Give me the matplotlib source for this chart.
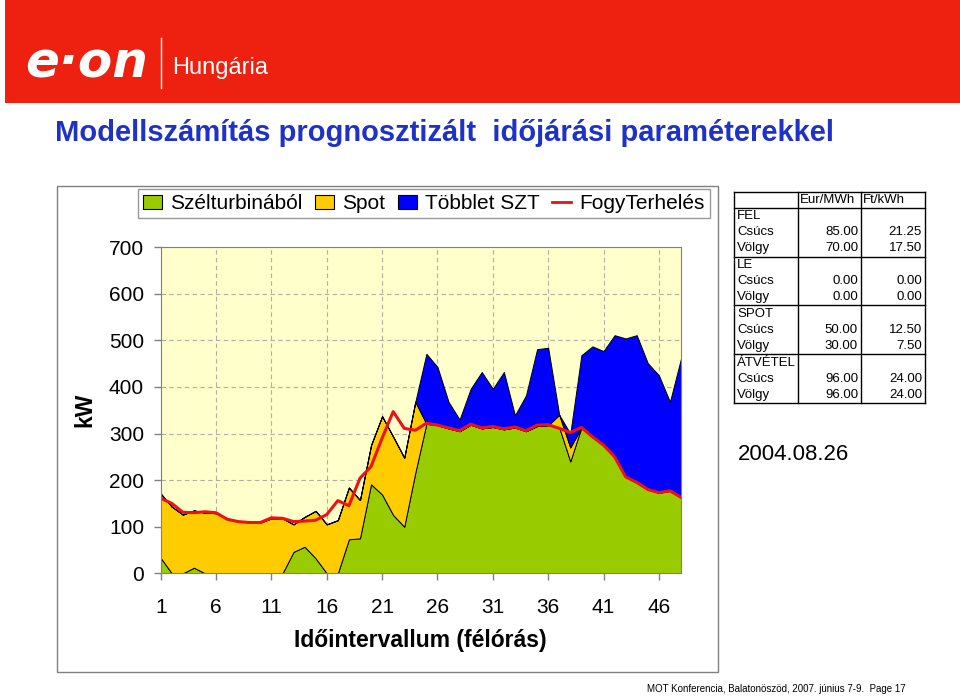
import numpy as np
import matplotlib
matplotlib.use('Agg')
import matplotlib.pyplot as plt
from matplotlib.patches import Rectangle, Patch
from matplotlib.lines import Line2D

plt.rcParams['font.family'] = ['Liberation Sans', 'DejaVu Sans']

W, H = 960, 696

# half-hour intervals of the day
intervallum = np.arange(1, 49)
szel = [33, 0, 0, 12, 0, 0, 0, 0, 0, 0, 0, 0, 46, 57, 32, 0, 0, 73, 75, 191,
        169, 125, 100, 216, 321, 318, 311, 305, 319, 311, 314, 309, 313, 305, 316, 318,
        313, 240, 313, 293, 275, 250, 207, 195, 180, 173, 177, 163]
spot = [138, 143, 126, 123, 130, 129, 118, 112, 109, 109, 118, 118, 59, 64, 102, 105,
        114, 111, 82, 84, 168, 168, 148, 152, 0, 0, 0, 0, 0, 0, 0, 0,
        0, 0, 0, 0, 27, 30, 0, 0, 0, 0, 0, 0, 0, 0, 0, 0]
tobblet = [0, 0, 0, 0, 0, 0, 0, 0, 0, 0, 0, 0, 0, 0, 0, 0, 0, 0, 0, 0, 0, 0, 0, 0,
           150, 125, 57, 25, 77, 121, 82, 123, 26, 77, 165, 166,
           0, 30, 155, 194, 202, 261, 297, 316, 271, 252, 191, 298]
fogy = [161, 150, 131, 130, 132, 130, 116, 111, 109, 109, 119, 118, 111, 112, 114, 126,
        156, 145, 204, 229, 290, 347, 311, 307, 322, 318, 312, 306, 320, 312, 315, 310,
        314, 306, 318, 319, 311, 302, 313, 293, 275, 250, 207, 195, 180, 173, 177, 163]

series_names = ['Szélturbinából', 'Spot', 'Többlet SZT', 'FogyTerhelés']
x_ticks = [1, 6, 11, 16, 21, 26, 31, 36, 41, 46]
y_ticks = [0, 100, 200, 300, 400, 500, 600, 700]

# price table
tab_header = ['Eur/MWh', 'Ft/kWh']
tab_groups = ['FEL', 'LE', 'SPOT', 'ÁTVÉTEL']
tab_sub = ['Csúcs', 'Völgy']
tab_eur = [[85.00, 70.00], [0.00, 0.00], [50.00, 30.00], [96.00, 96.00]]
tab_ft = [[21.25, 17.50], [0.00, 0.00], [12.50, 7.50], [24.00, 24.00]]


def fx(x):
    return x / W


def fy(y):
    return 1 - y / H


fig = plt.figure(figsize=(9.6, 6.96), dpi=100)
tf = fig.transFigure

# red header band
fig.add_artist(Rectangle((fx(5), fy(103)), (W - 5) / W, 103 / H, transform=tf,
                         facecolor='#EE2010', edgecolor='none'))
fig.text(fx(25), fy(64), 'e·on', color='white', fontsize=36, fontweight='bold',
         style='italic', family='DejaVu Sans', va='center')
fig.add_artist(Line2D([fx(161), fx(161)], [fy(38), fy(88)], color='white', lw=1, transform=tf))
fig.text(fx(172), fy(68), 'Hungária', color='white', fontsize=17, va='center')

fig.text(fx(55), fy(133), 'Modellszámítás prognosztizált  időjárási paraméterekkel',
         color='#1E32C8', fontsize=21, fontweight='bold', va='center')

# chart frame
fig.add_artist(Rectangle((fx(57), fy(672)), (718 - 57) / W, (672 - 186) / H, transform=tf,
                         fill=False, edgecolor='#808080', lw=1))

ax = fig.add_axes([fx(160.7), fy(573.3), (681 - 160.7) / W, (573.3 - 247.1) / H])
ax.set_facecolor('#FFFFCC')
ax.set_axisbelow(True)
ax.stackplot(intervallum, szel, spot, tobblet, colors=['#99CC00', '#FFCC00', '#0000FF'],
             edgecolor='black', linewidth=0.7)
ax.plot(intervallum, fogy, color='#EE1111', lw=2.2)
ax.set_xlim(1, 48)
ax.set_ylim(0, 700)
ax.set_xticks(x_ticks)
ax.set_yticks(y_ticks)
ax.tick_params(labelsize=15, length=5, color='#808080', width=1)
ax.tick_params(axis='x', pad=12.5)
ax.tick_params(axis='y', pad=7)
ax.grid(True, ls=(0, (4, 3)), color='#B0B0A0', lw=0.8)
for s in ax.spines.values():
    s.set_color('#808080')

fig.text(fx(85), fy(410), 'kW', rotation=90, fontsize=16.5, fontweight='bold',
         ha='center', va='center')
fig.text(fx(420.5), fy(641), 'Időintervallum (félórás)', fontsize=16.5, fontweight='bold',
         ha='center', va='center')

handles = [Patch(facecolor='#99CC00', edgecolor='black', lw=0.8),
           Patch(facecolor='#FFCC00', edgecolor='black', lw=0.8),
           Patch(facecolor='#0000FF', edgecolor='black', lw=0.8),
           Line2D([0], [0], color='#EE1111', lw=2)]
leg = fig.legend(handles, series_names, loc='upper left', bbox_to_anchor=(fx(138), fy(189)),
                 ncol=4, fontsize=15, frameon=True, fancybox=False, edgecolor='#808080',
                 handlelength=0.9, handletextpad=0.4, columnspacing=0.6, borderpad=0.25,
                 borderaxespad=0)
leg.get_frame().set_linewidth(1)

# table on the right
top, head_bot, row_h = 191.7, 207.7, 16.3
xl, xc1, xc2, xr = 734.3, 797.7, 861, 925
for y in [top, head_bot] + [head_bot + 3 * row_h * (g + 1) for g in range(4)]:
    fig.add_artist(Line2D([fx(xl), fx(xr)], [fy(y), fy(y)], color='black', lw=1, transform=tf))
bot = head_bot + 12 * row_h
for x in [xl, xc1, xc2, xr]:
    fig.add_artist(Line2D([fx(x), fx(x)], [fy(top), fy(bot)], color='black', lw=1, transform=tf))
fig.text(fx(800), fy(200), tab_header[0], fontsize=9.5, va='center')
fig.text(fx(863), fy(200), tab_header[1], fontsize=9.5, va='center')
k = 0
for g, name in enumerate(tab_groups):
    fig.text(fx(737), fy(head_bot + row_h * (k + 0.5)), name, fontsize=9.5, va='center')
    k += 1
    for j, sub in enumerate(tab_sub):
        yc = fy(head_bot + row_h * (k + 0.5))
        fig.text(fx(737), yc, sub, fontsize=9.5, va='center')
        fig.text(fx(858), yc, f'{tab_eur[g][j]:.2f}', fontsize=9.5, va='center', ha='right')
        fig.text(fx(922), yc, f'{tab_ft[g][j]:.2f}', fontsize=9.5, va='center', ha='right')
        k += 1

fig.text(fx(738), fy(455), '2004.08.26', fontsize=16, va='center')
fig.text(fx(647), fy(689), 'MOT Konferencia, Balatonöszöd, 2007. június 7-9.  Page 17',
         fontsize=7, va='center')

fig.savefig('out.png', dpi=100)
